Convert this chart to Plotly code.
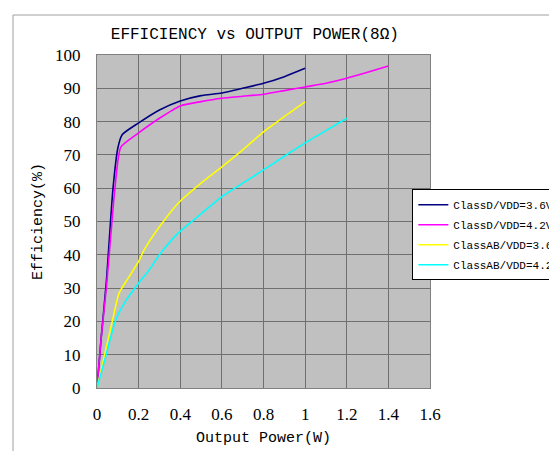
import plotly.graph_objects as go

# ---- data ----
d36_x = [0, 0.02, 0.045, 0.077, 0.1, 0.12, 0.2, 0.3, 0.4, 0.5, 0.6, 0.7, 0.8, 0.9, 1.0]
d36_y = [0, 15, 32, 60, 72, 76, 79.6, 83.5, 86.2, 87.8, 88.6, 90, 91.5, 93.5, 96]

d42_x = [0, 0.02, 0.045, 0.08, 0.1, 0.115, 0.2, 0.3, 0.4, 0.5, 0.6, 0.7, 0.8, 0.9, 1.0, 1.1, 1.2, 1.3, 1.4]
d42_y = [0, 15, 30, 56, 68, 72.4, 76.6, 81, 84.7, 86, 87, 87.6, 88.2, 89.3, 90.4, 91.5, 93, 94.8, 96.7]

ab36_x = [0, 0.034, 0.077, 0.106, 0.15, 0.2, 0.226, 0.3, 0.39, 0.5, 0.6, 0.7, 0.8, 0.9, 1.0]
ab36_y = [0, 9.3, 21, 28.5, 33, 38, 41.4, 48.4, 55.5, 61.5, 66.4, 71.5, 76.9, 81.5, 85.9]

ab42_x = [0, 0.04, 0.09, 0.14, 0.2, 0.25, 0.3, 0.39, 0.5, 0.6, 0.7, 0.8, 0.9, 1.0, 1.1, 1.2]
ab42_y = [0, 9, 20.4, 26.4, 31.5, 35.4, 40, 46.5, 52.3, 57.5, 61.5, 65.5, 69.6, 73.6, 77.3, 81]

series_names = ["ClassD/VDD=3.6V", "ClassD/VDD=4.2V", "ClassAB/VDD=3.6V", "ClassAB/VDD=4.2V"]
series_colors = ["#000080", "#FF00FF", "#FFFF00", "#00FFFF"]

x_ticks = [0, 0.2, 0.4, 0.6, 0.8, 1, 1.2, 1.4, 1.6]
y_ticks = [0, 10, 20, 30, 40, 50, 60, 70, 80, 90, 100]

MONO = "Liberation Mono"
SERIF = "Liberation Serif"

fig = go.Figure()
for i, ((xs, ys), name, col) in enumerate(zip([(d36_x, d36_y), (d42_x, d42_y), (ab36_x, ab36_y), (ab42_x, ab42_y)],
                                              series_names, series_colors)):
    fig.add_trace(go.Scatter(x=xs, y=ys, mode="lines", name=name, legendgroup=f"g{i}",
                             line=dict(color=col, width=1.6, shape="spline", smoothing=0.6)))

fig.update_layout(
    width=557, height=451,
    margin=dict(l=89, r=135, t=47, b=71, autoexpand=False),
    paper_bgcolor="white",
    plot_bgcolor="#C0C0C0",
    title=dict(text="EFFICIENCY vs OUTPUT POWER(8Ω)", x=0.474, xref="paper", xanchor="center",
               y=1 - 25 / 451, yref="container", yanchor="middle",
               font=dict(family=MONO, size=16, color="black")),
    legend=dict(x=0.947, y=0.597, xref="paper", yref="paper", xanchor="left", yanchor="top",
                bgcolor="white", bordercolor="#000000", borderwidth=1,
                font=dict(family=MONO, size=11, color="black"),
                tracegroupgap=1),
    showlegend=True,
    shapes=[dict(type="rect", xref="paper", yref="paper", x0=(13 - 97) / 333, x1=1.8,
                 y0=-0.5, y1=(388 - 15) / 333, line=dict(color="#A0A0A0", width=1),
                 fillcolor="rgba(0,0,0,0)", layer="below")],
)

fig.update_xaxes(range=[0, 1.6], tickvals=x_ticks, showgrid=True, gridcolor="#707070", gridwidth=1,
                 zeroline=False, showline=True, linecolor="#808080", linewidth=1, mirror=True,
                 ticks="", ticklabelstandoff=11,
                 tickfont=dict(family=SERIF, size=17, color="black"),
                 title=dict(text="Output Power(W)", font=dict(family=MONO, size=15, color="black"), standoff=8))
fig.update_yaxes(range=[0, 100], tickvals=y_ticks, showgrid=True, gridcolor="#707070", gridwidth=1,
                 zeroline=False, showline=True, linecolor="#808080", linewidth=1, mirror=True,
                 ticks="", ticklabelstandoff=12,
                 tickfont=dict(family=SERIF, size=17, color="black"),
                 title=dict(text="Efficiency(%)", font=dict(family=MONO, size=15, color="black"), standoff=8))

fig.write_html("out.html")
